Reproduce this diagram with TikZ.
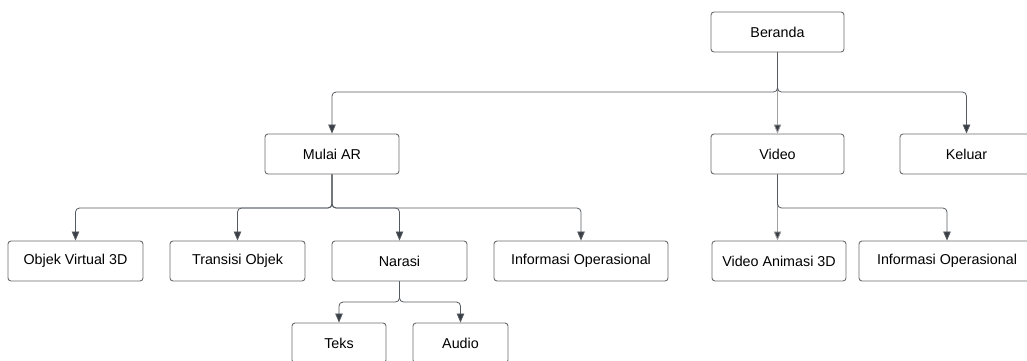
\documentclass[tikz,border=0pt]{standalone}
\usepackage{fontspec}
\setmainfont{Liberation Sans}
\usetikzlibrary{arrows.meta}
\definecolor{boxline}{HTML}{6B6B6B}
\definecolor{linkline}{HTML}{555A60}
\definecolor{straightline}{HTML}{A0A0A0}
\definecolor{tipcol}{HTML}{3A3F47}
\begin{document}
\begin{tikzpicture}[x=1pt,y=-1pt,
  box/.style={draw=boxline, line width=0.9pt, rounded corners=3pt, fill=white,
    minimum height=40pt, inner sep=0pt, font=\fontsize{14.3}{16}\selectfont},
  link/.style={draw=linkline, line width=0.8pt, rounded corners=4pt,
    -{Triangle[length=9pt,width=7.5pt,fill=tipcol]}},
  straight/.style={link, draw=straightline}]
\useasboundingbox (0,0) rectangle (1027,360);
\clip (0,0) rectangle (1027,360);
% level 1
\node[box, minimum width=133pt] (beranda) at (777.5,32) {Beranda};
% level 2
\node[box, minimum width=134pt] (mulai) at (332,154) {Mulai AR};
\node[box, minimum width=133pt] (video) at (777.5,154) {Video};
\node[box, minimum width=133pt] (keluar) at (966.5,154) {Keluar};
% level 3 under Mulai AR
\node[box, minimum width=135pt] (objek) at (75.5,261) {Objek Virtual 3D};
\node[box, minimum width=135pt] (transisi) at (237.5,261) {Transisi Objek};
\node[box, minimum width=135pt] (narasi) at (399.5,261) {Narasi};
\node[box, minimum width=174pt] (info1) at (581,261) {Informasi Operasional};
% level 3 under Video
\node[box, minimum width=134pt] (vanim) at (779,261) {Video Animasi 3D};
\node[box, minimum width=176pt] (info2) at (947,261) {Informasi Operasional};
% level 4 under Narasi
\node[box, minimum width=94pt] (teks) at (339,343) {Teks};
\node[box, minimum width=95pt] (audio) at (460.5,343) {Audio};
% junction points
\coordinate (j1) at (777.5,92);
\coordinate (j2) at (332,208);
\coordinate (j3) at (777.5,208);
\coordinate (j4) at (399.5,302);
% connectors
\draw[straight] (beranda.south) -- (video.north);
\draw[straight] (video.south) -- (video.south |- vanim.north);
\draw[link] (beranda.south) -- (j1) -| (mulai.north);
\draw[link] (beranda.south) -- (j1) -| (keluar.north);
\draw[link] (mulai.south) -- (j2) -| (objek.north);
\draw[link] (mulai.south) -- (j2) -| (transisi.north);
\draw[link] (mulai.south) -- (j2) -| (narasi.north);
\draw[link] (mulai.south) -- (j2) -| (info1.north);
\draw[link] (video.south) -- (j3) -| (info2.north);
\draw[link] (narasi.south) -- (j4) -| (teks.north);
\draw[link] (narasi.south) -- (j4) -| (audio.north);
\end{tikzpicture}
\end{document}
